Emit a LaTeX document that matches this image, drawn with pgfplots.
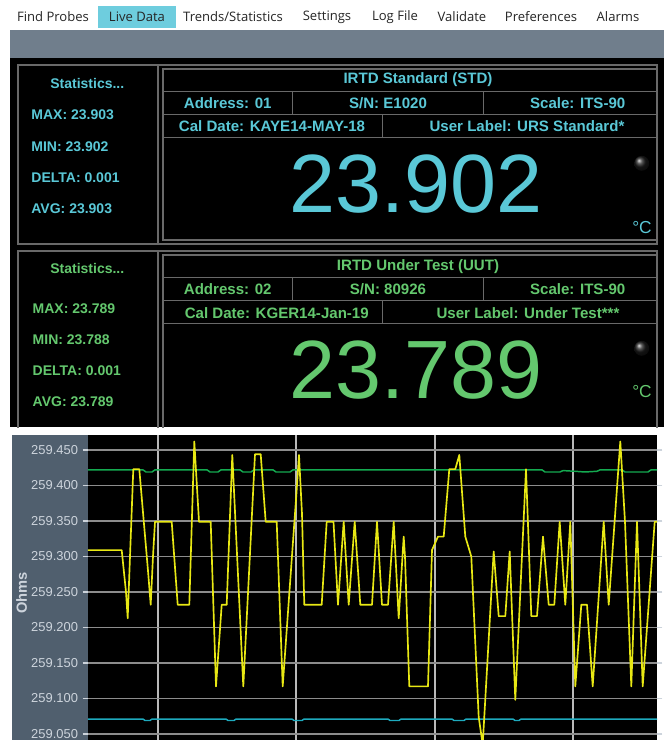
\documentclass[border=0pt]{standalone}
\usepackage{pgfplots}
\pgfplotsset{compat=1.18}
\usepackage{fontspec}
\setmainfont{Liberation Sans}
\newfontfamily\menufont{Open Sans}
\definecolor{cy}{RGB}{90,200,215}
\definecolor{gr}{RGB}{100,200,110}
\definecolor{panelgray}{RGB}{80,95,110}
\definecolor{bargray}{RGB}{112,126,140}
\definecolor{tabblue}{RGB}{110,205,222}
\definecolor{boxline}{RGB}{105,105,105}
\definecolor{ticklab}{RGB}{205,212,220}
\definecolor{ylw}{RGB}{232,232,20}
\definecolor{grline}{RGB}{20,170,80}
\definecolor{cyline}{RGB}{30,170,190}
\definecolor{hgrid}{RGB}{140,140,140}
\definecolor{vgrid}{RGB}{185,185,185}

\pgfplotstableread{
x y
88 259.309
121.7 259.309
126 259.250
127.7 259.213
130 259.300
133.3 259.423
139.3 259.423
148 259.280
150.7 259.232
153 259.300
155 259.349
171.7 259.349
177.7 259.232
189.3 259.232
194.3 259.462
199 259.349
210.7 259.349
216 259.117
221.7 259.232
226.7 259.232
232.3 259.443
243.3 259.117
255 259.444
260.7 259.444
265.7 259.349
276.7 259.349
282.7 259.117
296.7 259.394
299 259.443
302 259.360
304.3 259.232
321.7 259.232
326.7 259.349
333.5 259.349
338 259.232
343.7 259.349
348.7 259.232
354.7 259.349
360.3 259.232
372 259.232
377 259.349
382 259.232
388 259.232
393.7 259.349
398.7 259.213
403.7 259.328
405 259.300
409.3 259.117
428 259.117
432 259.309
438 259.328
443.7 259.328
449.3 259.423
455.3 259.423
459.3 259.443
465.3 259.328
471.3 259.300
478.7 259.074
482.7 259.035
493.7 259.307
498.7 259.216
505.3 259.216
509.7 259.307
515.3 259.098
526 259.423
531.3 259.216
537 259.216
543 259.328
548.7 259.232
554.3 259.232
559.7 259.349
565.3 259.232
570.3 259.349
575.3 259.117
581.3 259.232
587 259.232
592.7 259.117
603.7 259.349
608.7 259.232
620.3 259.462
625 259.349
631.3 259.117
637 259.349
642.7 259.117
654.7 259.349
657 259.349
}\yellowdata

\pgfplotstableread{
x y
88 259.422
143 259.422
146 259.419
152 259.419
155 259.422
207 259.422
210 259.419
218 259.419
221 259.422
240 259.422
243 259.419
251 259.419
254 259.422
273 259.422
276 259.419
290 259.419
293 259.422
542 259.422
545 259.419
560 259.419
563 259.421
575 259.420
585 259.419
597 259.420
600 259.422
622 259.422
625 259.419
648 259.419
651 259.422
657 259.422
}\greendata

\pgfplotstableread{
x y
88 259.071
143 259.071
145 259.069
150 259.069
152 259.071
226 259.071
228 259.069
234 259.069
236 259.071
292 259.071
294 259.069
302 259.069
304 259.071
388 259.071
390 259.069
399 259.069
401 259.071
452 259.071
454 259.069
464 259.069
466 259.071
513 259.071
515 259.069
519 259.069
521 259.071
657 259.071
}\cyandata

\tikzset{
  stat/.style={anchor=west, font=\bfseries\fontsize{10.5}{12}\selectfont},
  lab/.style={font=\bfseries\fontsize{11.3}{13}\selectfont},
  big/.style={font=\fontsize{62}{62}\selectfont},
  menu/.style={font=\menufont\fontsize{9.8}{11}\selectfont, text=black!85},
}

\begin{document}
\begin{tikzpicture}
\useasboundingbox (0pt,0pt) rectangle (498pt,-555pt);
\begin{scope}[x=0.75pt,y=-0.75pt]
\fill[white] (0,0) rectangle (664,740);
% menu bar
\fill[tabblue] (98,6) rectangle (176,28);
\node[menu] at (53,17) {Find Probes};
\node[menu] at (137,17) {Live Data};
\node[menu] at (233,17) {Trends/Statistics};
\node[menu] at (327,17) {Settings};
\node[menu] at (395,17) {Log File};
\node[menu] at (462,17) {Validate};
\node[menu] at (541,17) {Preferences};
\node[menu] at (618,17) {Alarms};
% gray bar and black panel
\fill[bargray] (10,30) rectangle (664,58);
\fill[black] (10,58) rectangle (664,427);
% ---------- upper instrument ----------
\begin{scope}[draw=boxline, line width=1.1pt]
  \draw (18,65) rectangle (657,244);
  \draw (158,65) -- (158,244);
  \draw (163,69) rectangle (657,240);
  \draw (163,91.7) -- (657,91.7);
  \draw (163,114.3) -- (657,114.3);
  \draw (163,137.7) -- (657,137.7);
  \draw (292.7,91.7) -- (292.7,114.3);
  \draw (483.7,91.7) -- (483.7,114.3);
  \draw (382.7,114.3) -- (382.7,137.7);
\end{scope}
\node[stat, anchor=center, text=cy] at (87.3,83.3) {Statistics...};
\node[stat, text=cy] at (26.7,115) {MAX: 23.903};
\node[stat, text=cy] at (26.7,146.7) {MIN: 23.902};
\node[stat, text=cy] at (26.7,177.3) {DELTA: 0.001};
\node[stat, text=cy] at (26.7,208.3) {AVG: 23.903};
\node[lab, text=cy] at (418,80) {IRTD Standard (STD)};
\node[lab, text=cy] at (227.7,102.7) {Address: 01};
\node[lab, text=cy] at (388,102.7) {S/N: E1020};
\node[lab, text=cy] at (577.7,102.7) {Scale: ITS-90};
\node[lab, text=cy] at (272,125.7) {Cal Date: KAYE14-MAY-18};
\node[lab, text=cy] at (527,125.7) {User Label: URS Standard*};
\node[big, text=cy] at (416,184) {23.902};
\shade[ball color=gray!22!black] (641.7,163.3) circle (7.5);
\node[font=\fontsize{13}{14}\selectfont, text=cy] at (642,227.3) {°C};
% ---------- lower instrument ----------
\begin{scope}
\clip (10,58) rectangle (664,427);
\begin{scope}[draw=boxline, line width=1.1pt]
  \draw (18,251) rectangle (657,440);
  \draw (158,251) -- (158,440);
  \draw (163,255) rectangle (657,440);
  \draw (163,277.7) -- (657,277.7);
  \draw (163,300.3) -- (657,300.3);
  \draw (163,323.7) -- (657,323.7);
  \draw (292.7,277.7) -- (292.7,300.3);
  \draw (483.7,277.7) -- (483.7,300.3);
  \draw (382.7,300.3) -- (382.7,323.7);
\end{scope}
\end{scope}
\node[stat, anchor=center, text=gr] at (87.3,268.8) {Statistics...};
\node[stat, text=gr] at (28,308.3) {MAX: 23.789};
\node[stat, text=gr] at (28,340) {MIN: 23.788};
\node[stat, text=gr] at (28,371) {DELTA: 0.001};
\node[stat, text=gr] at (28,401.7) {AVG: 23.789};
\node[lab, text=gr] at (418,266.7) {IRTD Under Test (UUT)};
\node[lab, text=gr] at (227.7,289.5) {Address: 02};
\node[lab, text=gr] at (388,289.5) {S/N: 80926};
\node[lab, text=gr] at (577.7,289.5) {Scale: ITS-90};
\node[lab, text=gr] at (276.8,312.8) {Cal Date: KGER14-Jan-19};
\node[lab, text=gr] at (528,312.8) {User Label: Under Test***};
\node[big, text=gr] at (416,370) {23.789};
\shade[ball color=gray!22!black] (641.7,348.3) circle (7.5);
\node[font=\fontsize{13}{14}\selectfont, text=gr] at (642,391.7) {°C};
% ---------- chart panel ----------
\fill[panelgray] (12,435) rectangle (88,740);
\node[rotate=90, font=\bfseries\fontsize{11}{12}\selectfont, text=ticklab] at (21.7,593) {Ohms};
\end{scope}
\begin{axis}[
  at={(66pt,-326.25pt)}, anchor=north west,
  scale only axis, width=426.75pt, height=228.75pt,
  xmin=88, xmax=657, ymin=259.0415, ymax=259.4711,
  axis background/.style={fill=black},
  axis line style={draw=none},
  xtick={158,296,435,573}, xticklabels={},
  xmajorgrids, ymajorgrids,
  x grid style={vgrid, line width=0.9pt},
  y grid style={hgrid, line width=1.0pt},
  ytick={259.05,259.1,259.15,259.2,259.25,259.3,259.35,259.4,259.45},
  yticklabels={259.050,259.100,259.150,259.200,259.250,259.300,259.350,259.400,259.450},
  yticklabel style={font=\fontsize{9.7}{11}\selectfont, text=ticklab},
  tick align=outside,
  major tick length=4pt,
  x tick style={draw=none},
  y tick style={ticklab, line width=1.1pt},
]
\addplot[grline, line width=1.1pt] table {\greendata};
\addplot[cyline, line width=1.1pt] table {\cyandata};
\addplot[ylw, line width=1.25pt, line join=round] table {\yellowdata};
\end{axis}
\end{tikzpicture}
\end{document}
